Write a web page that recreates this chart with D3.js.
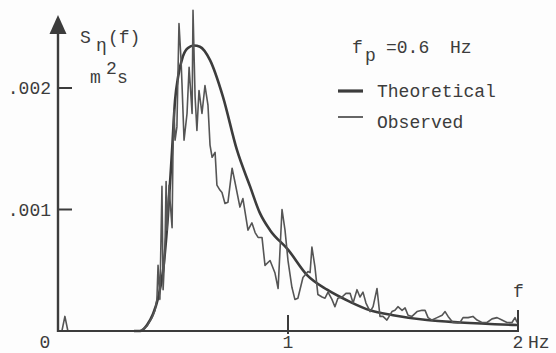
<!DOCTYPE html>
<html><head><meta charset="utf-8">
<script src="https://cdn.jsdelivr.net/npm/d3@7"></script>
<style>
html,body{margin:0;padding:0;background:#fdfdfd;}
svg{display:block;}
text{font-family:"Liberation Mono","Courier New",monospace;fill:#3c3c3c;}
</style></head><body>
<script>
// Frequencies (Hz) and spectral density values (m^2 s)
const theoFreq = [0.33,0.357,0.387,0.413,0.435,0.457,0.478,0.496,0.509,0.522,0.543,0.565,0.591,0.617,0.661,0.717,0.778,0.835,0.878,0.922,1.0,1.083,1.17,1.27,1.357,1.457,1.604,1.748,1.996];
const theoVal  = [0,0,0.00005,0.00014,0.00027,0.00050,0.00095,0.00149,0.00190,0.00209,0.00226,0.00233,0.00235,0.00234,0.00223,0.00193,0.00149,0.00119,0.00097,0.00083,0.00067,0.00046,0.00034,0.00024,0.00017,0.00013,0.00009,0.00007,0.00005];

const obsFreq = [0,0.017,0.030,0.043,0.357,0.387,0.409,0.422,0.430,0.435,0.443,0.452,0.457,0.465,0.470,0.474,0.483,0.487,0.496,0.500,0.504,0.509,0.517,0.526,0.535,0.539,0.548,0.561,0.570,0.583,0.587,0.596,0.604,0.613,0.626,0.639,0.652,0.661,0.670,0.683,0.691,0.704,0.713,0.726,0.739,0.757,0.770,0.791,0.804,0.826,0.843,0.857,0.870,0.887,0.900,0.922,0.943,0.957,0.974,0.987,1.000,1.017,1.030,1.043,1.065,1.087,1.096,1.104,1.117,1.130,1.148,1.161,1.174,1.191,1.204,1.217,1.235,1.252,1.270,1.283,1.300,1.313,1.326,1.339,1.357,1.370,1.387,1.400,1.413,1.430,1.452,1.465,1.478,1.496,1.509,1.522,1.539,1.561,1.583,1.596,1.609,1.626,1.648,1.670,1.683,1.696,1.717,1.748,1.761,1.783,1.804,1.822,1.843,1.865,1.887,1.909,1.930,1.952,1.974,1.987,1.996];
const obsVal  = [0,0,0.00012,0,0,0.00004,0.00011,0.00017,0.00026,0.00054,0.00026,0.00119,0.00034,0.00067,0.00123,0.00083,0.00120,0.00108,0.00085,0.00149,0.00182,0.00157,0.00168,0.00253,0.00223,0.00204,0.00157,0.00179,0.00217,0.00179,0.00264,0.00193,0.00165,0.00198,0.00179,0.00202,0.00186,0.00153,0.00143,0.00147,0.00120,0.00116,0.00114,0.00105,0.00106,0.00134,0.00122,0.00102,0.00109,0.00083,0.00089,0.00081,0.00077,0.00077,0.00054,0.00058,0.00048,0.00035,0.00100,0.00083,0.00058,0.00036,0.00026,0.00027,0.00044,0.00049,0.00048,0.00069,0.00053,0.00030,0.00028,0.00027,0.00032,0.00026,0.00020,0.00027,0.00028,0.00031,0.00031,0.00023,0.00034,0.00028,0.00032,0.00023,0.00016,0.00020,0.00035,0.00012,0.00012,0.00009,0.00016,0.00017,0.00020,0.00017,0.00019,0.00013,0.00012,0.00016,0.00017,0.00017,0.00011,0.00009,0.00011,0.00013,0.00016,0.00012,0.00007,0.00007,0.00011,0.00011,0.00012,0.00009,0.00007,0.00007,0.00010,0.00011,0.00009,0.00007,0.00007,0.00011,0.00007];

const xTicks = [0,1,2];
const xTickLabels = ["0","1","2"];
const yTicks = [0.001,0.002];
const yTickLabels = [".001",".002"];
const seriesNames = ["Theoretical","Observed"];

const W = 556, H = 353;
const svg = d3.select("body").append("svg").attr("width",W).attr("height",H);
const x = d3.scaleLinear().domain([0,2]).range([58,518]);
const y = d3.scaleLinear().domain([0,0.002]).range([331,88]);
const ink = "#3c3c3c";
const fs = 18;

// theoretical curve
const theo = theoFreq.map((f,i)=>[f,theoVal[i]]);
svg.append("path").datum(theo)
  .attr("fill","none").attr("stroke",ink).attr("stroke-width",2.6)
  .attr("d", d3.line().x(d=>x(d[0])).y(d=>y(d[1])).curve(d3.curveMonotoneX));

// observed
const obs = obsFreq.map((f,i)=>[f,obsVal[i]]);
svg.append("path").datum(obs)
  .attr("fill","none").attr("stroke","#555").attr("stroke-width",1.6).attr("stroke-linejoin","round")
  .attr("d", d3.line().x(d=>x(d[0])).y(d=>y(d[1])));

// x axis
svg.append("line").attr("x1",x(0)).attr("x2",x(2)).attr("y1",y(0)).attr("y2",y(0))
  .attr("stroke",ink).attr("stroke-width",2.2);
svg.append("line").attr("x1",x(1)).attr("x2",x(1)).attr("y1",y(0)-16).attr("y2",y(0)+3)
  .attr("stroke",ink).attr("stroke-width",2);
svg.append("line").attr("x1",x(2)).attr("x2",x(2)).attr("y1",y(0)-21).attr("y2",y(0)+1)
  .attr("stroke",ink).attr("stroke-width",2);
xTicks.forEach((t,i)=>{
  const tx = i===0 ? x(t)-13 : x(t);
  svg.append("text").attr("x",tx).attr("y",348).attr("text-anchor","middle")
    .attr("font-size",fs).text(xTickLabels[i]);
});
svg.append("text").attr("x",528).attr("y",348).attr("font-size",fs).text("Hz");
svg.append("text").attr("x",x(2)-5).attr("y",297).attr("font-size",fs).text("f");

// y axis
svg.append("line").attr("x1",x(0)).attr("x2",x(0)).attr("y1",y(0)+1).attr("y2",32)
  .attr("stroke",ink).attr("stroke-width",2.4);
svg.append("path").attr("d",`M${x(0)},15 L${x(0)-8.5},34 L${x(0)+8.5},34 Z`).attr("fill",ink);
yTicks.forEach((t,i)=>{
  svg.append("line").attr("x1",x(0)).attr("x2",x(0)+14).attr("y1",y(t)).attr("y2",y(t))
    .attr("stroke",ink).attr("stroke-width",2);
  svg.append("text").attr("x",x(0)-7).attr("y",y(t)+6).attr("text-anchor","end")
    .attr("font-size",fs).text(yTickLabels[i]);
});

// y label S_eta(f)  m^2 s
svg.append("text").attr("x",80).attr("y",43).attr("font-size",fs).text("S");
svg.append("text").attr("x",96).attr("y",51).attr("font-size",fs).text("η");
svg.append("text").attr("x",108).attr("y",43).attr("font-size",fs).text("(f)");
svg.append("text").attr("x",90).attr("y",83).attr("font-size",fs).text("m");
svg.append("text").attr("x",106).attr("y",74).attr("font-size",fs).text("2");
svg.append("text").attr("x",117).attr("y",83).attr("font-size",fs).text("s");

// fp annotation
svg.append("text").attr("x",352).attr("y",53).attr("font-size",fs).text("f");
svg.append("text").attr("x",365).attr("y",61).attr("font-size",fs).text("p");
svg.append("text").attr("x",386).attr("y",53).attr("font-size",fs).text("=0.6");
svg.append("text").attr("x",450).attr("y",53).attr("font-size",fs).text("Hz");

// legend
svg.append("line").attr("x1",338).attr("x2",363).attr("y1",91).attr("y2",91)
  .attr("stroke",ink).attr("stroke-width",3.2);
svg.append("text").attr("x",377).attr("y",97).attr("font-size",fs).text(seriesNames[0]);
svg.append("line").attr("x1",338).attr("x2",363).attr("y1",117).attr("y2",117)
  .attr("stroke","#555").attr("stroke-width",1.8);
svg.append("text").attr("x",377).attr("y",128).attr("font-size",fs).text(seriesNames[1]);
</script>
</body></html>
